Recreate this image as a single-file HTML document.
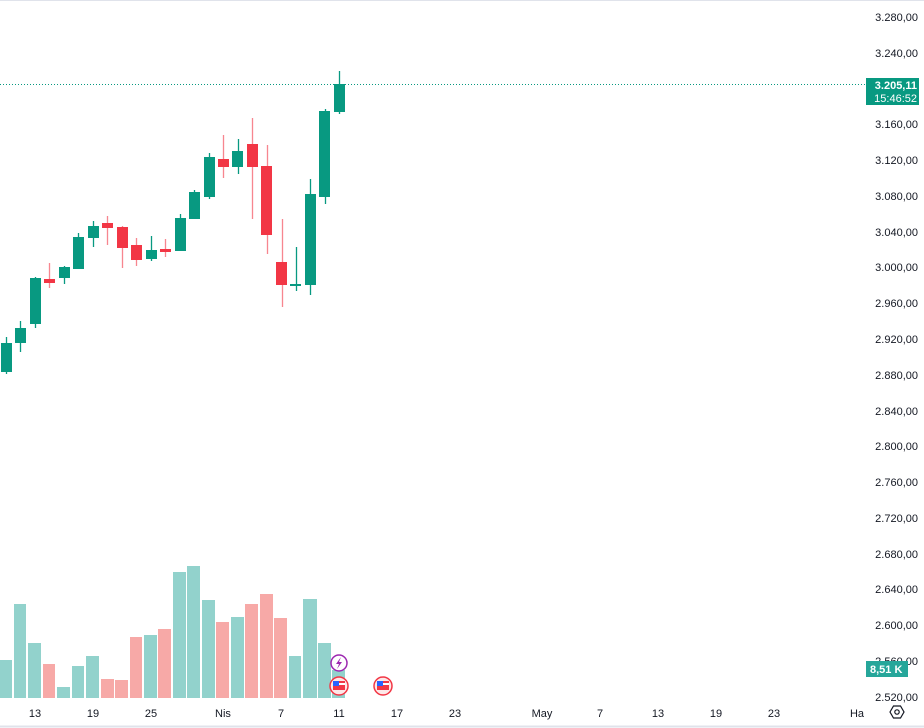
<!DOCTYPE html>
<html><head><meta charset="utf-8"><style>
body{margin:0;background:#fff;}
svg{display:block;font-family:"Liberation Sans",sans-serif;}
</style></head><body>
<svg width="924" height="728" viewBox="0 0 924 728" xmlns="http://www.w3.org/2000/svg">
<rect width="924" height="728" fill="#fff"/>
<line x1="0" y1="0.5" x2="924" y2="0.5" stroke="#e0e3eb"/>
<line x1="0" y1="726.5" x2="924" y2="726.5" stroke="#e0e3eb" stroke-width="2"/>
<g>
<rect x="0" y="660" width="12" height="38" fill="#92d2cc"/>
<rect x="14" y="604" width="12" height="94" fill="#92d2cc"/>
<rect x="28" y="643" width="13" height="55" fill="#92d2cc"/>
<rect x="43" y="664" width="12" height="34" fill="#f7a9a7"/>
<rect x="57" y="687" width="13" height="11" fill="#92d2cc"/>
<rect x="72" y="666" width="12" height="32" fill="#92d2cc"/>
<rect x="86" y="656" width="13" height="42" fill="#92d2cc"/>
<rect x="101" y="679" width="13" height="19" fill="#f7a9a7"/>
<rect x="115" y="680" width="13" height="18" fill="#f7a9a7"/>
<rect x="130" y="637" width="12" height="61" fill="#f7a9a7"/>
<rect x="144" y="635" width="13" height="63" fill="#92d2cc"/>
<rect x="158" y="629" width="13" height="69" fill="#f7a9a7"/>
<rect x="173" y="572" width="13" height="126" fill="#92d2cc"/>
<rect x="187" y="566" width="13" height="132" fill="#92d2cc"/>
<rect x="202" y="600" width="13" height="98" fill="#92d2cc"/>
<rect x="216" y="622" width="13" height="76" fill="#f7a9a7"/>
<rect x="231" y="617" width="13" height="81" fill="#92d2cc"/>
<rect x="245" y="604" width="13" height="94" fill="#f7a9a7"/>
<rect x="260" y="594" width="13" height="104" fill="#f7a9a7"/>
<rect x="274" y="618" width="13" height="80" fill="#f7a9a7"/>
<rect x="289" y="656" width="12" height="42" fill="#92d2cc"/>
<rect x="303" y="599" width="14" height="99" fill="#92d2cc"/>
<rect x="318" y="643" width="13" height="55" fill="#92d2cc"/>
<rect x="332" y="670" width="13" height="28" fill="#92d2cc"/>
</g>
<line x1="0" y1="84.5" x2="866" y2="84.5" stroke="#089981" stroke-width="1" stroke-dasharray="1,2"/>
<g stroke-width="1.3">
<g stroke="#089981" fill="#089981">
<line x1="6.5" y1="337" x2="6.5" y2="374"/><rect x="1" y="343" width="11" height="29" stroke="none"/>
<line x1="20.5" y1="321" x2="20.5" y2="352"/><rect x="15" y="328" width="11" height="15" stroke="none"/>
<line x1="35.5" y1="277" x2="35.5" y2="328"/><rect x="30" y="278" width="11" height="46" stroke="none"/>
<line x1="64.5" y1="266" x2="64.5" y2="284"/><rect x="59" y="267" width="11" height="11" stroke="none"/>
<line x1="78.5" y1="233" x2="78.5" y2="269"/><rect x="73" y="237" width="11" height="32" stroke="none"/>
<line x1="93.5" y1="221" x2="93.5" y2="247"/><rect x="88" y="226" width="11" height="12" stroke="none"/>
<line x1="151.5" y1="236" x2="151.5" y2="261"/><rect x="146" y="250" width="11" height="9" stroke="none"/>
<line x1="180.5" y1="214" x2="180.5" y2="251"/><rect x="175" y="218" width="11" height="33" stroke="none"/>
<line x1="194.5" y1="190" x2="194.5" y2="219"/><rect x="189" y="192" width="11" height="27" stroke="none"/>
<line x1="209.5" y1="153" x2="209.5" y2="199"/><rect x="204" y="157" width="11" height="40" stroke="none"/>
<line x1="238.5" y1="139" x2="238.5" y2="174"/><rect x="232" y="151" width="11" height="16" stroke="none"/>
<line x1="296.5" y1="247" x2="296.5" y2="291"/><rect x="290" y="284" width="11" height="2" stroke="none"/>
<line x1="310.5" y1="179" x2="310.5" y2="295"/><rect x="305" y="194" width="11" height="91" stroke="none"/>
<line x1="325.5" y1="109" x2="325.5" y2="204"/><rect x="319" y="111" width="11" height="86" stroke="none"/>
<line x1="339.5" y1="71" x2="339.5" y2="114"/><rect x="334" y="84" width="11" height="28" stroke="none"/>
</g>
<g stroke="#f23645" fill="#f23645">
<line x1="49.5" y1="263" x2="49.5" y2="288" stroke-opacity=".6"/><rect x="44" y="279" width="11" height="4" stroke="none"/>
<line x1="107.5" y1="216" x2="107.5" y2="245" stroke-opacity=".6"/><rect x="102" y="223" width="11" height="5" stroke="none"/>
<line x1="122.5" y1="226" x2="122.5" y2="268" stroke-opacity=".6"/><rect x="117" y="227" width="11" height="21" stroke="none"/>
<line x1="136.5" y1="238" x2="136.5" y2="266" stroke-opacity=".6"/><rect x="131" y="245" width="11" height="15" stroke="none"/>
<line x1="165.5" y1="239" x2="165.5" y2="257" stroke-opacity=".6"/><rect x="160" y="249" width="11" height="3" stroke="none"/>
<line x1="223.5" y1="135" x2="223.5" y2="178" stroke-opacity=".6"/><rect x="218" y="159" width="11" height="8" stroke="none"/>
<line x1="252.5" y1="118" x2="252.5" y2="219" stroke-opacity=".6"/><rect x="247" y="144" width="11" height="23" stroke="none"/>
<line x1="267.5" y1="145" x2="267.5" y2="254" stroke-opacity=".6"/><rect x="261" y="166" width="11" height="69" stroke="none"/>
<line x1="282.5" y1="219" x2="282.5" y2="307" stroke-opacity=".6"/><rect x="276" y="262" width="11" height="23" stroke="none"/>
</g>
</g>
<circle cx="339" cy="663" r="8" fill="#fff" stroke="#9c27b0" stroke-width="1.5"/>
<path d="M341 657 L336 664 L339 664 L337 669 L342 662 L339 662 Z" fill="#9c27b0"/>
<g>
<circle cx="339" cy="686" r="9" fill="#fde8e8" stroke="#f23645" stroke-width="1.5"/>
<rect x="333" y="681" width="12" height="9" fill="#f23645"/><rect x="333" y="683" width="12" height="2" fill="#fff"/><rect x="333" y="681" width="6" height="5" fill="#2962ff"/>
<circle cx="383" cy="686" r="9" fill="#fde8e8" stroke="#f23645" stroke-width="1.5"/>
<rect x="377" y="681" width="12" height="9" fill="#f23645"/><rect x="377" y="683" width="12" height="2" fill="#fff"/><rect x="377" y="681" width="6" height="5" fill="#2962ff"/>
</g>
<g font-size="11" fill="#131722" text-anchor="end">
<text x="918" y="21">3.280,00</text>
<text x="918" y="57">3.240,00</text>
<text x="918" y="128">3.160,00</text>
<text x="918" y="164">3.120,00</text>
<text x="918" y="200">3.080,00</text>
<text x="918" y="236">3.040,00</text>
<text x="918" y="271">3.000,00</text>
<text x="918" y="307">2.960,00</text>
<text x="918" y="343">2.920,00</text>
<text x="918" y="379">2.880,00</text>
<text x="918" y="415">2.840,00</text>
<text x="918" y="450">2.800,00</text>
<text x="918" y="486">2.760,00</text>
<text x="918" y="522">2.720,00</text>
<text x="918" y="558">2.680,00</text>
<text x="918" y="593">2.640,00</text>
<text x="918" y="629">2.600,00</text>
<text x="918" y="665">2.560,00</text>
<text x="918" y="701">2.520,00</text>
</g>
<rect x="866" y="78" width="53" height="27" fill="#089981"/>
<text x="917" y="89" font-size="11" font-weight="bold" fill="#fff" text-anchor="end">3.205,11</text>
<text x="917" y="102" font-size="11" fill="#fff" text-anchor="end">15:46:52</text>
<rect x="866" y="661" width="42" height="16" fill="#26a69a"/>
<text x="870" y="673" font-size="11" font-weight="bold" fill="#fff">8,51 K</text>
<g font-size="11" fill="#131722" text-anchor="middle">
<text x="35" y="717">13</text><text x="93" y="717">19</text><text x="151" y="717">25</text>
<text x="223" y="717">Nis</text><text x="281" y="717">7</text><text x="339" y="717">11</text>
<text x="397" y="717">17</text><text x="455" y="717">23</text><text x="542" y="717">May</text>
<text x="600" y="717">7</text><text x="658" y="717">13</text><text x="716" y="717">19</text>
<text x="774" y="717">23</text><text x="857" y="717">Ha</text>
</g>
<polygon points="890,712 893.5,706 900.5,706 904,712 900.5,718 893.5,718" fill="none" stroke="#131722" stroke-width="1.2"/>
<circle cx="897" cy="712" r="2.2" fill="none" stroke="#131722" stroke-width="1.2"/>
</svg>
</body></html>
